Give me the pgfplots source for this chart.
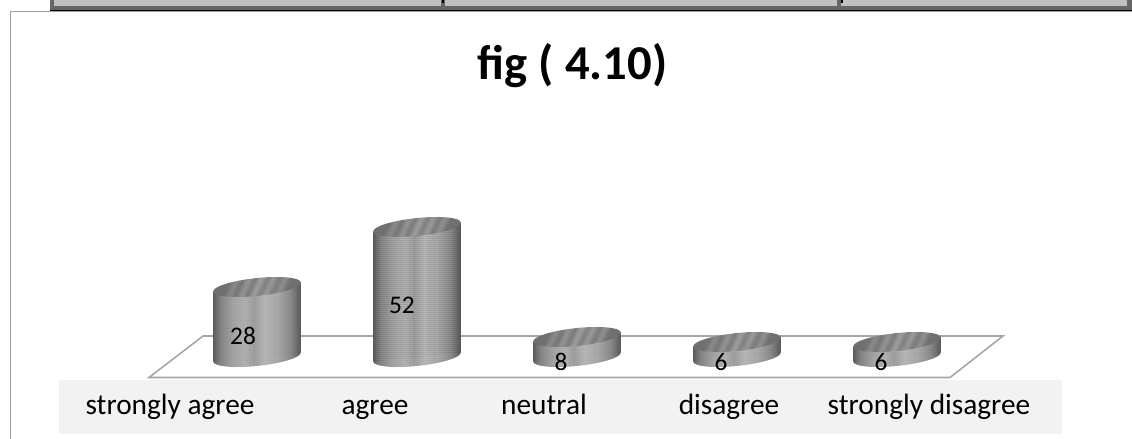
\documentclass[border=0pt]{standalone}
\usepackage{fontspec}
\setmainfont{Carlito}
\usepackage{pgfplots}
\usepackage{pgfplotstable}
\pgfplotsset{compat=1.18}
\usetikzlibrary{patterns}

% 1 px of the reference = 0.75pt
\definecolor{tblfill}{HTML}{C0C0C0}
\definecolor{tbldark}{HTML}{666666}
\definecolor{framegray}{HTML}{A0A0A0}
\definecolor{floorgray}{HTML}{A6A6A6}
\definecolor{bandgray}{HTML}{F2F2F2}

\pgfdeclarehorizontalshading{cylside}{100bp}{
  color(0bp)=(black!60); color(25bp)=(black!62); color(29bp)=(black!46);
  color(36bp)=(black!34); color(43bp)=(black!28); color(48bp)=(black!36);
  color(54bp)=(black!26); color(62bp)=(black!32); color(69bp)=(black!44);
  color(75bp)=(black!64); color(100bp)=(black!64)}
\pgfdeclarehorizontalshading{cyltop}{100bp}{
  color(0bp)=(black!58); color(30bp)=(black!56); color(34bp)=(black!46);
  color(38bp)=(black!54); color(42bp)=(black!42); color(46bp)=(black!52);
  color(50bp)=(black!38); color(54bp)=(black!50); color(58bp)=(black!40);
  color(62bp)=(black!52); color(66bp)=(black!44); color(70bp)=(black!56);
  color(100bp)=(black!58)}
\pgfdeclarepatternformonly{finelines}{\pgfqpoint{0pt}{0pt}}{\pgfqpoint{10pt}{1.6pt}}{\pgfqpoint{10pt}{1.6pt}}{
  \pgfsetlinewidth{.55pt}
  \pgfpathmoveto{\pgfqpoint{0pt}{.8pt}}
  \pgfpathlineto{\pgfqpoint{10pt}{.8pt}}
  \pgfusepath{stroke}}

% tilted ellipse (6 degrees), written out since transforms do not reach inside the mark
\def\tiltell#1{(32.82pt,#1+3.45pt)
  .. controls (32.43pt,#1+7.13pt) and (17.43pt,#1+8.565pt) .. (-.7pt,#1+6.66pt)
  .. controls (-18.83pt,#1+4.755pt) and (-33.21pt,#1+.23pt) .. (-32.82pt,#1-3.45pt)
  .. controls (-32.43pt,#1-7.13pt) and (-17.43pt,#1-8.565pt) .. (.7pt,#1-6.66pt)
  .. controls (18.83pt,#1-4.755pt) and (33.21pt,#1-.23pt) .. (32.82pt,#1+3.45pt) -- cycle}

% one cylinder, origin = centre of its base, height from the value
\pgfdeclareplotmark{cyl}{
  \pgfmathsetlengthmacro{\hh}{\val*1.875pt}
  \def\cylbody{(-32.82pt,-3.45pt) -- (-32.82pt,\hh-3.45pt) -- (32.82pt,\hh+3.45pt) -- (32.82pt,3.45pt) -- cycle}
  \path[draw=none,shading=cylside] \tiltell{0pt};
  \path[draw=none,pattern=finelines,pattern color=black,opacity=.18] \tiltell{0pt};
  \path[draw=none,shading=cylside] \cylbody;
  \path[draw=none,pattern=finelines,pattern color=black,opacity=.18] \cylbody;
  \path[draw=none,shading=cyltop,shading angle=-25] \tiltell{\hh};
}

\pgfplotstableread{
x v
0 28
1 52
2 8
3 6
4 6
}\cyldata
% label positions: x, y, value
\pgfplotstableread{
x y v
-0.0875 8.6 28
0.906 20.8 52
1.9 -2 8
2.9 -2.2 6
3.9 -2.2 6
}\labeldata

\begin{document}
\begin{tikzpicture}
\useasboundingbox (0,0) rectangle (849pt,329.25pt);
\begin{axis}[
    at={(0,0)},anchor=south west,
    scale only axis,width=849pt,height=329.25pt,
    xmin=0,xmax=1132,ymin=0,ymax=439,y dir=reverse,
    hide axis,clip=false,
  ]
  % table above the chart
  \fill[tbldark] (axis cs:50,-1) rectangle (axis cs:1133,10.5);
  \fill[tblfill] (axis cs:54,-1) rectangle (axis cs:441,6);
  \fill[tblfill] (axis cs:445,-1) rectangle (axis cs:837,6);
  \fill[tblfill] (axis cs:841,-1) rectangle (axis cs:1127,6);
  \fill[black] (axis cs:50,10) rectangle (axis cs:1133,11);
  \draw[black,line width=.9pt] (axis cs:443,-1) -- (axis cs:443,3);
  \draw[black,line width=.9pt] (axis cs:842,-1) -- (axis cs:842,3);
  % chart frame
  \draw[framegray,line width=1pt] (axis cs:1133,11.8) -- (axis cs:10.3,11.8) -- (axis cs:10.3,440);
  % band behind the category names
  \fill[bandgray] (axis cs:59,380) rectangle (axis cs:1062,433.5);
  % floor
  \draw[floorgray,line width=1.2pt,line join=miter] (axis cs:149,377.5) -- (axis cs:203,336) -- (axis cs:1003,336) -- (axis cs:950,377.5) -- cycle;
  \node[anchor=base,font=\fontsize{36.5}{38}\selectfont\bfseries] at (axis cs:572.5,79) {f{}ig ( 4.10)};
  \node[anchor=base,font=\fontsize{22}{24}\selectfont] at (axis cs:170,414) {strongly agree};
  \node[anchor=base,font=\fontsize{22}{24}\selectfont] at (axis cs:375,414) {agree};
  \node[anchor=base,font=\fontsize{22}{24}\selectfont] at (axis cs:544,414) {neutral};
  \node[anchor=base,font=\fontsize{22}{24}\selectfont] at (axis cs:729,414) {disagree};
  \node[anchor=base,font=\fontsize{22}{24}\selectfont] at (axis cs:929,414) {strongly disagree};
\end{axis}
\begin{axis}[
    at={(0,0)},anchor=south west,
    scale only axis,width=849pt,height=329.25pt,
    xmin=-1.60625,xmax=5.46875,ymin=-32.8,ymax=142.8,
    hide axis,clip=false,
  ]
  \addplot[only marks,mark=cyl,scatter,point meta=\thisrow{v},
    visualization depends on={\thisrow{v}\as\val},
    scatter/@pre marker code/.code={},
    scatter/@post marker code/.code={},
  ] table[x=x,y expr=0] {\cyldata};
  \addplot[only marks,mark=none,draw=none,
    point meta=explicit symbolic,
    nodes near coords,
    nodes near coords style={anchor=center,text=black,font=\fontsize{19}{22}\selectfont},
  ] table[x=x,y=y,meta=v] {\labeldata};
\end{axis}
\end{tikzpicture}
\end{document}
